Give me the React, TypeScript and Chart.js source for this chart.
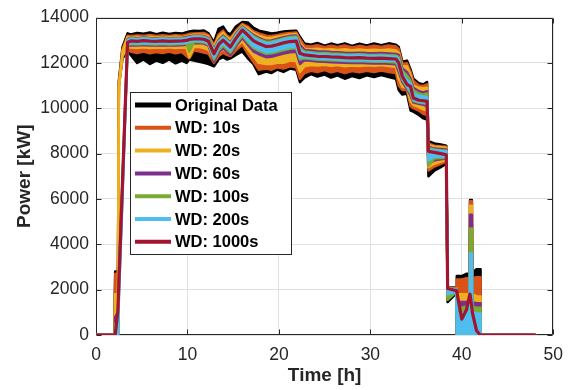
import React, { useEffect, useRef } from "react";
import { Chart, registerables } from "chart.js";

Chart.register(...registerables);

const FONT = '"Liberation Sans", Arial, Helvetica, sans-serif';

// Time axis [h]
const TIME = [
  0, 2.0, 2.1, 2.4, 2.5, 2.9, 3.45, 3.8, 4.5, 5.2,
  5.9, 6.6, 7.3, 8.0, 8.7, 9.4, 9.9, 10.2, 10.7, 11.3,
  11.8, 12.3, 12.9, 13.4, 13.9, 14.3, 14.7, 15.3, 16.0, 16.6,
  17.2, 17.8, 18.6, 19.2, 19.8, 20.5, 21.2, 21.9, 22.3, 22.8,
  23.5, 24.2, 25.0, 25.7, 26.4, 27.2, 28.0, 28.8, 29.6, 30.4,
  31.2, 32.0, 32.8, 33.1, 33.5, 34.0, 34.4, 34.7, 35.3, 35.8,
  36.2, 36.35, 37.0, 37.7, 38.3, 38.45, 39.4, 39.45, 40.0, 40.5,
  40.85, 40.9, 41.1, 41.15, 41.6, 42.0, 42.05, 48.0,
];

// Original data: upper / lower envelope of the noisy signal [kW]
const ORIG_HI = [
  0, 0, 2800, 2800, 11200, 12700, 13300, 13250, 13320, 13280,
  13340, 13260, 13330, 13270, 13320, 13290, 13350, 13380, 13420, 13400,
  13430, 13300, 12900, 13500, 13600, 13350, 13250, 13600, 13800, 13780,
  13550, 13420, 13350, 13300, 13330, 13380, 13400, 13420, 13150, 12850,
  12800, 12880, 12760, 12850, 12780, 12860, 12750, 12840, 12770, 12850,
  12780, 12860, 12800, 12700, 12050, 12100, 11700, 11300, 11100, 11050,
  11150, 8550, 8450, 8400, 8350, 2100, 2100, 2600, 2600, 2700,
  2700, 5950, 5950, 2750, 2900, 2900, 0, 0,
];
const ORIG_LO = [
  0, 0, 0, 0, 11000, 12200, 12500, 12350, 12000, 12150,
  11950, 12100, 12000, 12150, 11980, 12100, 12000, 12150, 12100, 12050,
  12000, 11950, 11850, 12150, 12250, 12150, 12200, 12350, 12500, 12200,
  11950, 11500, 11620, 11550, 11700, 11600, 11750, 11700, 11150, 11350,
  11500, 11400, 11480, 11350, 11450, 11300, 11420, 11330, 11450, 11380,
  11460, 11380, 11300, 10800, 10600, 10650, 9900, 9850, 9700, 9550,
  9500, 7000, 7250, 7400, 7550, 1450, 1850, 0, 0, 0,
  0, 0, 0, 0, 0, 0, 0, 0,
];

// WD: 10s
const WD10_HI = [
  0, 0, 2700, 2700, 11100, 12600, 13200, 13180, 13210, 13190,
  13230, 13180, 13220, 13190, 13220, 13200, 13240, 13280, 13300, 13310,
  13320, 13220, 12780, 13250, 13420, 13200, 13100, 13420, 13720, 13600,
  13400, 13300, 13200, 13180, 13220, 13280, 13320, 13340, 13050, 12760,
  12720, 12780, 12690, 12760, 12700, 12770, 12680, 12750, 12690, 12760,
  12700, 12770, 12720, 12600, 11950, 11980, 11600, 11200, 11000, 10980,
  11050, 8450, 8350, 8320, 8300, 2080, 2080, 2450, 2450, 2500,
  2500, 5900, 5900, 2500, 2550, 2550, 0, 0,
];
const WD10_LO = [
  0, 0, 0, 0, 11000, 12300, 12600, 12500, 12430, 12500,
  12420, 12480, 12430, 12500, 12420, 12480, 12300, 12200, 12550, 12500,
  12450, 12400, 12000, 12300, 12450, 12350, 12300, 12550, 12800, 12400,
  12050, 11700, 11750, 11700, 11800, 11750, 11850, 11800, 11300, 11550,
  11650, 11600, 11680, 11580, 11650, 11550, 11640, 11580, 11650, 11600,
  11660, 11600, 11550, 11000, 10800, 10800, 10100, 10000, 9900, 9750,
  9700, 7250, 7430, 7550, 7650, 1600, 1880, 0, 0, 0,
  0, 0, 0, 0, 0, 0, 0, 0,
];

// WD: 20s
const WD20_HI = [
  0, 0, 1800, 1800, 11000, 12500, 13130, 13120, 13140, 13130,
  13150, 13120, 13140, 13130, 13150, 13130, 13160, 13200, 13240, 13240,
  13230, 13150, 12700, 13150, 13330, 13130, 13020, 13350, 13650, 13520,
  13320, 13200, 13100, 13100, 13150, 13200, 13250, 13270, 12900, 12620,
  12600, 12620, 12580, 12600, 12570, 12600, 12560, 12590, 12560, 12580,
  12560, 12590, 12550, 12450, 11850, 11850, 11450, 11000, 10900, 10880,
  10900, 8380, 8300, 8280, 8250, 2060, 2060, 1800, 1800, 1800,
  1800, 5700, 5700, 1800, 1700, 1700, 0, 0,
];
const WD20_LO = [
  0, 0, 0, 0, 10900, 12300, 12700, 12680, 12660, 12690,
  12650, 12680, 12660, 12690, 12660, 12680, 12650, 12250, 12700, 12700,
  12650, 12580, 12100, 12450, 12600, 12500, 12420, 12700, 12950, 12600,
  12300, 12000, 11950, 11950, 12000, 12000, 12100, 12080, 11600, 11850,
  11900, 11880, 11920, 11870, 11900, 11850, 11880, 11860, 11890, 11870,
  11900, 11860, 11820, 11300, 10950, 10900, 10300, 10150, 10050, 9950,
  9900, 7400, 7550, 7650, 7700, 1700, 1900, 0, 0, 0,
  0, 0, 0, 0, 0, 0, 0, 0,
];

// WD: 60s
const WD60_HI = [
  0, 0, 800, 1000, 2600, 6900, 13040, 13110, 13090, 13120,
  13100, 13090, 13110, 13090, 13100, 13110, 13130, 13170, 13200, 13200,
  13180, 13090, 12600, 13000, 13200, 13050, 12900, 13280, 13600, 13420,
  13230, 13100, 12970, 12990, 13050, 13130, 13190, 13210, 12800, 12570,
  12540, 12510, 12500, 12480, 12470, 12450, 12440, 12450, 12430, 12420,
  12430, 12410, 12390, 12350, 11750, 11600, 11300, 10900, 10750, 10700,
  10750, 8300, 8220, 8200, 8180, 2080, 2030, 1450, 1450, 1450,
  1450, 5300, 5300, 1450, 1400, 1400, 0, 0,
];
const WD60_LO = [
  0, 0, 0, 0, 2200, 6600, 12720, 12780, 12760, 12790,
  12770, 12760, 12780, 12760, 12770, 12780, 12800, 12840, 12870, 12870,
  12850, 12760, 12050, 12450, 12650, 12500, 12350, 12730, 13100, 12800,
  12510, 12380, 12250, 12270, 12330, 12410, 12470, 12490, 11950, 12120,
  12090, 12060, 12050, 12030, 12020, 12000, 11990, 12000, 11980, 11970,
  11980, 11960, 11940, 11600, 11150, 10850, 10550, 10250, 10200, 10150,
  10100, 7550, 7700, 7750, 7780, 1800, 1900, 0, 0, 0,
  0, 0, 0, 0, 0, 0, 0, 0,
];

// WD: 100s
const WD100_HI = [
  0, 0, 500, 600, 2500, 6800, 13010, 13080, 13060, 13090,
  13070, 13060, 13080, 13060, 13070, 13080, 13100, 13140, 13170, 13170,
  13150, 13060, 12560, 12960, 13160, 13010, 12860, 13240, 13570, 13380,
  13180, 13050, 12920, 12940, 13000, 13080, 13140, 13160, 12650, 12500,
  12470, 12440, 12430, 12410, 12400, 12380, 12370, 12380, 12360, 12350,
  12360, 12340, 12320, 12250, 11650, 11450, 11200, 10800, 10650, 10600,
  10650, 8250, 8180, 8150, 8130, 2080, 2020, 1200, 1200, 1250,
  1250, 4700, 4700, 1250, 1200, 1200, 0, 0,
];
const WD100_LO = [
  0, 0, 0, 0, 2200, 6500, 12760, 12830, 12810, 12840,
  12820, 12810, 12830, 12810, 12820, 12830, 12850, 12500, 12920, 12920,
  12900, 12810, 12150, 12550, 12750, 12600, 12450, 12830, 13200, 12900,
  12660, 12530, 12400, 12420, 12480, 12560, 12620, 12640, 12150, 12200,
  12170, 12140, 12130, 12110, 12100, 12080, 12070, 12080, 12060, 12050,
  12060, 12040, 12020, 11750, 11250, 10920, 10650, 10320, 10250, 10220,
  10180, 7450, 7780, 7800, 7820, 1550, 1900, 0, 0, 0,
  0, 0, 0, 0, 0, 0, 0, 0,
];

// WD: 200s
const WD200_HI = [
  0, 0, 0, 0, 1700, 6300, 12990, 13060, 13040, 13070,
  13050, 13040, 13060, 13040, 13050, 13060, 13080, 13120, 13150, 13150,
  13130, 13040, 12520, 12920, 13120, 12970, 12820, 13200, 13550, 13340,
  13130, 13000, 12870, 12890, 12950, 13030, 13090, 13110, 12550, 12450,
  12420, 12390, 12380, 12360, 12350, 12330, 12320, 12330, 12310, 12300,
  12310, 12290, 12270, 12150, 11550, 11250, 11100, 10650, 10550, 10520,
  10500, 8200, 8150, 8120, 8100, 2060, 2000, 950, 950, 1000,
  1000, 3600, 3600, 1000, 950, 950, 0, 0,
];
const WD200_LO = [
  0, 0, 0, 0, 1500, 6000, 12800, 12870, 12850, 12880,
  12860, 12850, 12870, 12850, 12860, 12870, 12890, 12930, 12960, 12960,
  12940, 12850, 12240, 12640, 12840, 12690, 12540, 12920, 13290, 13000,
  12730, 12600, 12470, 12490, 12550, 12630, 12690, 12710, 12250, 12250,
  12220, 12190, 12180, 12160, 12150, 12130, 12120, 12130, 12110, 12100,
  12110, 12090, 12070, 11850, 11300, 10980, 10750, 10370, 10280, 10260,
  10230, 7700, 7850, 7870, 7850, 1800, 1900, 0, 0, 0,
  0, 0, 0, 0, 0, 0, 0, 0,
];

// WD: 1000s
const WD1000 = [
  0, 0, 0, 1100, 2250, 6750, 12900, 12970, 12950, 12980,
  12960, 12950, 12970, 12950, 12960, 12970, 12990, 13030, 13060, 13060,
  13040, 12950, 12400, 12800, 13000, 12850, 12700, 13080, 13450, 13220,
  12980, 12850, 12720, 12740, 12800, 12880, 12940, 12960, 12420, 12350,
  12320, 12290, 12280, 12260, 12250, 12230, 12220, 12230, 12210, 12200,
  12210, 12190, 12170, 12000, 11400, 11050, 10950, 10450, 10350, 10330,
  10300, 8100, 8050, 8000, 7950, 2050, 1950, 1900, 700, 1100,
  1750, 1800, 1200, 1000, 200, 0, 0, 0,
];

const LABELS = ["Original Data", "WD: 10s", "WD: 20s", "WD: 60s", "WD: 100s", "WD: 200s", "WD: 1000s"];
const COLORS = ["#000000", "#D95319", "#EDB120", "#7E2F8E", "#77AC30", "#4DBEEE", "#A2142F"];
const X_TICKS = [0, 10, 20, 30, 40, 50];
const Y_TICKS = [0, 2000, 4000, 6000, 8000, 10000, 12000, 14000];

export default function App() {
  const ref = useRef<HTMLCanvasElement>(null);

  useEffect(() => {
    document.body.style.margin = "0";
    const canvas = ref.current!;
    const pts = (ys: number[]) => TIME.map((t, i) => ({ x: t, y: ys[i] }));

    const bands: [number[], number[], number][] = [
      [WD200_HI, WD200_LO, 5],
      [WD100_HI, WD100_LO, 4],
      [WD60_HI, WD60_LO, 3],
      [WD20_HI, WD20_LO, 2],
      [WD10_HI, WD10_LO, 1],
      [ORIG_HI, ORIG_LO, 0],
    ];
    const datasets: any[] = [
      { label: LABELS[6], data: pts(WD1000), borderColor: COLORS[6], borderWidth: 3.2, fill: false },
    ];
    for (const [hi, lo, ci] of bands) {
      datasets.push({
        label: LABELS[ci],
        data: pts(hi),
        borderColor: COLORS[ci],
        backgroundColor: COLORS[ci],
        borderWidth: 2.5,
        fill: "+1",
      });
      datasets.push({
        label: LABELS[ci] + " (lower)",
        data: pts(lo),
        borderColor: COLORS[ci],
        backgroundColor: COLORS[ci],
        borderWidth: 2.5,
        fill: false,
      });
    }

    const decor = {
      id: "decor",
      beforeDatasetsDraw(chart: any) {
        const { ctx, chartArea: a, scales } = chart;
        ctx.save();
        ctx.strokeStyle = "#262626";
        ctx.lineWidth = 1;
        const L = Math.round(a.left) + 0.5;
        const R = Math.round(a.right) - 0.5;
        const T = Math.round(a.top) + 0.5;
        const B = Math.round(a.bottom) - 0.5;
        ctx.beginPath();
        ctx.rect(L, T, R - L, B - T);
        for (const v of X_TICKS) {
          const px = Math.round(scales.x.getPixelForValue(v)) + 0.5;
          ctx.moveTo(px, B);
          ctx.lineTo(px, B - 5);
          ctx.moveTo(px, T);
          ctx.lineTo(px, T + 5);
        }
        for (const v of Y_TICKS) {
          const py = Math.round(scales.y.getPixelForValue(v)) + 0.5;
          ctx.moveTo(L, py);
          ctx.lineTo(L + 5, py);
          ctx.moveTo(R, py);
          ctx.lineTo(R - 5, py);
        }
        ctx.stroke();
        ctx.restore();
      },
      afterDraw(chart: any) {
        const ctx = chart.ctx;
        const a = chart.chartArea;
        ctx.save();
        ctx.fillStyle = "#262626";
        ctx.font = `bold 19px ${FONT}`;
        ctx.textAlign = "center";
        ctx.textBaseline = "middle";
        ctx.fillText("Time [h]", (a.left + a.right) / 2, 376);
        ctx.translate(25, (a.top + a.bottom) / 2);
        ctx.rotate(-Math.PI / 2);
        ctx.fillText("Power [kW]", 0, 0);
        ctx.restore();

        // legend
        ctx.save();
        const lx = 130, ly = 92, lw = 162, lh = 163;
        ctx.fillStyle = "#ffffff";
        ctx.fillRect(lx, ly, lw, lh);
        ctx.strokeStyle = "#262626";
        ctx.lineWidth = 1;
        ctx.strokeRect(lx + 0.5, ly + 0.5, lw - 1, lh - 1);
        ctx.font = `bold 16.5px ${FONT}`;
        ctx.textAlign = "left";
        ctx.textBaseline = "middle";
        LABELS.forEach((lab, i) => {
          const y = 105 + i * 22.8;
          ctx.strokeStyle = COLORS[i];
          ctx.lineWidth = i === 0 ? 5 : 4;
          ctx.beginPath();
          ctx.moveTo(135, y);
          ctx.lineTo(171, y);
          ctx.stroke();
          ctx.fillStyle = "#000000";
          ctx.fillText(lab, 175, y + 1);
        });
        ctx.restore();
      },
    };

    const chart = new Chart(canvas, {
      type: "line",
      data: { datasets },
      options: {
        animation: false,
        responsive: false,
        events: [],
        layout: { padding: { top: 11, right: 18, left: 0, bottom: 0 } },
        plugins: { legend: { display: false }, tooltip: { enabled: false } },
        elements: {
          point: { radius: 0 },
          line: { tension: 0, borderJoinStyle: "round", borderCapStyle: "round" },
        },
        scales: {
          x: {
            type: "linear",
            min: 0,
            max: 50,
            afterBuildTicks: (s: any) => {
              s.ticks = X_TICKS.map((v) => ({ value: v }));
            },
            afterFit: (s: any) => {
              s.height = 55;
            },
            grid: { color: "#e0e0e0", drawTicks: false },
            border: { display: false },
            ticks: {
              color: "#262626",
              font: { family: FONT, size: 17.5 },
              padding: 10,
              maxRotation: 0,
              callback: (v: any) => String(v),
            },
          },
          y: {
            type: "linear",
            min: 0,
            max: 14000,
            afterBuildTicks: (s: any) => {
              s.ticks = Y_TICKS.map((v) => ({ value: v }));
            },
            afterFit: (s: any) => {
              s.width = 96;
            },
            grid: { color: "#e0e0e0", drawTicks: false },
            border: { display: false },
            ticks: {
              color: "#262626",
              font: { family: FONT, size: 17.5 },
              padding: 7,
              callback: (v: any) => String(v),
            },
          },
        },
      },
      plugins: [decor],
    } as any);

    return () => chart.destroy();
  }, []);

  return (
    <div style={{ width: 573, height: 390 }}>
      <canvas ref={ref} width={573} height={390} style={{ display: "block" }} />
    </div>
  );
}
